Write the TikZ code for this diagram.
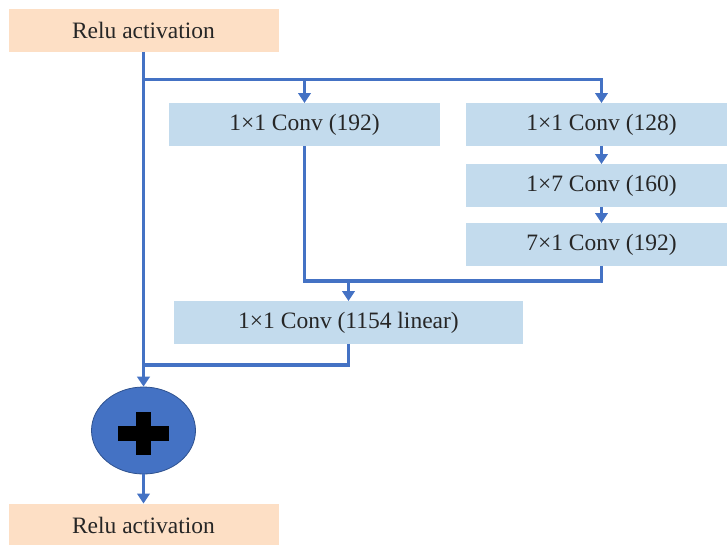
\documentclass[tikz,border=0pt]{standalone}
\usepackage{fontspec}
\setmainfont{Liberation Serif}
\usepackage{tikz}
\usetikzlibrary{arrows.meta,calc,positioning,shapes.geometric}
\definecolor{reluFill}{HTML}{FDDFC5}
\definecolor{convFill}{HTML}{C3DBED}
\definecolor{lineBlue}{HTML}{4472C4}
\definecolor{sumEdge}{HTML}{2F528F}
\tikzset{
  relu/.style={fill=reluFill,minimum width=270pt,minimum height=42.5pt,inner sep=0pt},
  convbox/.style={fill=convFill,minimum width=271pt,minimum height=42.5pt,inner sep=0pt},
  link/.style={draw=lineBlue,line width=3.6pt},
  arr/.style={link,-{Triangle[width=12.5pt,length=10pt]}},
}

\begin{document}
\begin{tikzpicture}[x=1pt,y=-1pt,font=\fontsize{23.5}{27}\selectfont,text=black!85]
    \useasboundingbox (0,0) rectangle (727,544);
    \node[relu] (in) at (143.5,30.5) {Relu activation};
    \node[convbox] (c1) at (304.5,124.5) {1×1 Conv (192)};
    \foreach \n/\y/\t in {c2/124.5/1×1 Conv (128),c3/185.5/1×7 Conv (160),c4/244.5/7×1 Conv (192)} {
      \node[convbox] (\n) at (601.5,\y) {\t};
    }
    \node[convbox,minimum width=349pt] (lin) at (348.5,322.5) {1×1 Conv (1154 linear)};
    \node[ellipse,fill=lineBlue,draw=sumEdge,line width=.8pt,minimum width=104pt,minimum height=87pt] (sum) at (143.5,430.5) {};
    \fill[black] (118,426) rectangle (169,441);
    \fill[black] (135.5,412) rectangle (151,455);
    \node[relu] (out) at (143.5,525) {Relu activation};
    % branches
    \coordinate (split) at ($(in.south)+(0,27.5)$);
    \coordinate (merge) at (lin.north |- 0,281);
    \coordinate (back) at (in.south |- 0,365);
    \draw[arr] (in.south) -- (sum.north);
    \draw[arr] (split) -| (c2.north);
    \draw[arr] (c1.north |- split) -- (c1.north);
    \draw[arr] (c2) -- (c3);
    \draw[arr] (c3) -- (c4);
    \draw[link] (c1.south) |- (merge);
    \draw[link] (c4.south) |- (merge);
    \draw[arr] (merge) -- (lin.north);
    \draw[link] (lin.south) |- (back);
    \draw[arr] (sum.south) -- (out.north);
\end{tikzpicture}
\end{document}
